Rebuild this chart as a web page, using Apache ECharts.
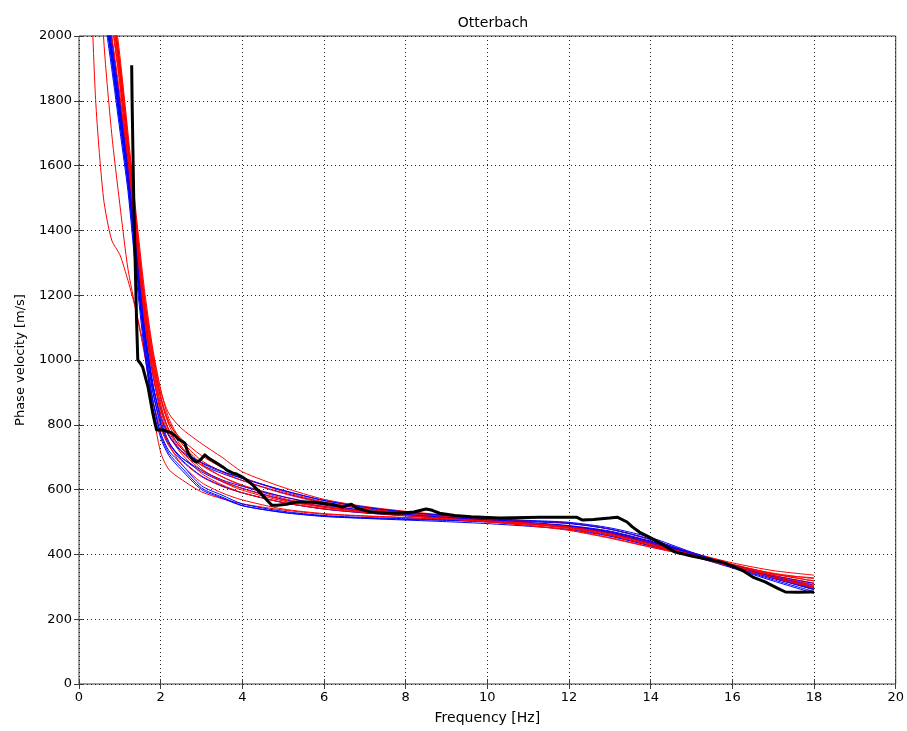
<!DOCTYPE html>
<html>
<head>
<meta charset="utf-8">
<script src="https://cdn.jsdelivr.net/npm/echarts@6/dist/echarts.min.js"></script>
<style>
  html, body { margin: 0; padding: 0; background: #fff; }
  #chart { width: 907px; height: 731px; }
</style>
</head>
<body>
<div id="chart"></div>
<script>
// Frequency samples shared by the modelled dispersion curves [Hz]
var modelFreq = [0.2, 0.4, 0.6, 0.8, 1.0, 1.2, 1.4, 1.6, 1.8, 2.0, 2.2, 2.5, 3.0, 3.5, 4.0, 5.0, 6.0, 7.0, 8.0, 9.0, 10, 11, 12, 13, 14, 15, 16, 17, 18];

// Modelled phase velocities, red family [m/s]
var red1  = [2500, 1820, 1500, 1370, 1325, 1245, 1150, 1030, 850, 715, 662, 632, 593, 572, 556, 537, 524, 518, 513, 508, 502, 496, 487, 469, 439, 404, 370, 340, 318];
var red2  = [null, 2600, 2000, 1700, 1480, 1280, 1150, 1020, 880, 790, 735, 690, 640, 610, 590, 560, 540, 528, 520, 512, 505, 497, 486, 466, 433, 400, 366, 332, 300];
var red3  = [null, null, null, 2120, 1920, 1680, 1430, 1200, 1030, 905, 835, 790, 742, 700, 655, 607, 570, 548, 533, 521, 511, 503, 496, 478, 446, 406, 374, 350, 336];
var red4  = [null, null, null, 2080, 1880, 1640, 1400, 1170, 1000, 880, 805, 757, 705, 668, 638, 594, 562, 543, 529, 518, 508, 498, 487, 468, 436, 401, 368, 342, 325];
var red5  = [null, null, null, 2150, 1940, 1700, 1450, 1220, 1040, 910, 820, 752, 690, 655, 628, 588, 558, 540, 527, 516, 507, 497, 485, 463, 431, 398, 365, 335, 312];
var red6  = [null, null, null, 2040, 1850, 1610, 1370, 1140, 980, 860, 785, 730, 675, 640, 614, 578, 552, 535, 523, 514, 505, 494, 480, 458, 428, 397, 362, 330, 302];
var red7  = [null, null, null, 2100, 1900, 1660, 1410, 1180, 1010, 885, 800, 735, 665, 625, 598, 565, 545, 531, 521, 513, 505, 496, 483, 460, 427, 396, 363, 328, 296];
var red8  = [null, null, null, 2000, 1820, 1590, 1350, 1120, 960, 845, 770, 712, 650, 615, 590, 560, 541, 529, 520, 510, 501, 490, 476, 452, 423, 394, 362, 329, 299];
var red9  = [null, null, null, 2120, 1910, 1670, 1420, 1190, 1020, 890, 810, 745, 680, 640, 612, 573, 548, 533, 521, 510, 500, 489, 474, 450, 422, 397, 368, 340, 318];
var red10 = [null, null, null, 2060, 1860, 1620, 1380, 1150, 970, 830, 740, 680, 622, 590, 568, 540, 526, 519, 514, 509, 503, 496, 485, 464, 432, 400, 366, 334, 306];
var red11 = [null, null, null, 2090, 1890, 1650, 1400, 1160, 990, 865, 780, 720, 660, 628, 603, 568, 546, 531, 520, 511, 502, 493, 482, 460, 428, 396, 365, 338, 328];

// Modelled phase velocities, blue family [m/s]
var blue1 = [null, null, 2180, 1990, 1800, 1610, 1370, 1140, 960, 850, 785, 728, 682, 655, 636, 597, 566, 545, 531, 519, 510, 503, 497, 478, 445, 402, 364, 330, 298];
var blue2 = [null, null, 2150, 1960, 1770, 1580, 1330, 1100, 930, 828, 770, 718, 676, 650, 628, 590, 560, 541, 528, 517, 507, 497, 485, 464, 432, 398, 362, 326, 292];
var blue3 = [null, null, 2120, 1940, 1750, 1560, 1310, 1080, 910, 805, 745, 700, 655, 625, 604, 570, 548, 533, 522, 513, 505, 497, 487, 468, 437, 400, 363, 327, 293];
var blue4 = [null, null, 2200, 2000, 1800, 1600, 1350, 1110, 935, 815, 748, 694, 642, 612, 590, 560, 540, 528, 519, 512, 505, 498, 489, 472, 441, 403, 365, 328, 296];
var blue5 = [null, null, 2100, 1920, 1730, 1540, 1290, 1050, 880, 775, 720, 680, 612, 583, 556, 533, 520, 514, 510, 506, 502, 496, 487, 470, 439, 402, 364, 327, 291];
var blue6 = [null, null, 2130, 1950, 1760, 1570, 1300, 1060, 880, 770, 712, 670, 605, 577, 551, 530, 518, 512, 508, 505, 500, 494, 484, 466, 434, 398, 360, 322, 285];
var blue7 = [null, null, 2080, 1900, 1710, 1520, 1260, 1030, 860, 760, 705, 662, 600, 574, 550, 529, 517, 511, 506, 501, 495, 487, 477, 456, 426, 395, 358, 318, 280];
var blue8 = [null, null, 2160, 1970, 1780, 1590, 1340, 1100, 925, 825, 765, 720, 684, 657, 634, 598, 567, 546, 531, 520, 511, 505, 499, 482, 452, 407, 366, 332, 305];
var blue9 = [null, null, 2110, 1930, 1740, 1550, 1300, 1080, 905, 800, 740, 700, 660, 630, 610, 578, 553, 536, 524, 514, 507, 501, 495, 478, 447, 404, 367, 335, 310];

// Observed dispersion curve (thick black)
var obsFreq = [1.29, 1.30, 1.32, 1.34, 1.37, 1.41, 1.44, 1.50, 1.56, 1.69, 1.80, 1.86, 1.90, 2.05, 2.27, 2.47, 2.59, 2.67, 2.79, 2.88, 2.96, 3.08, 3.20, 3.37, 3.52, 3.62, 3.77, 3.86, 4.00, 4.10, 4.25, 4.42, 4.60, 4.72, 4.85, 5.08, 5.33, 5.57, 5.80, 6.00, 6.25, 6.45, 6.67, 6.80, 7.10, 7.50, 7.85, 8.20, 8.50, 8.65, 8.83, 9.20, 9.60, 10.3, 11.3, 12.18, 12.33, 12.60, 12.99, 13.18, 13.42, 13.55, 13.72, 14.00, 14.30, 14.60, 15.00, 15.40, 15.75, 16.00, 16.25, 16.50, 16.80, 17.10, 17.30, 17.60, 17.90, 18.00];
var obsVel  = [1910, 1800, 1650, 1500, 1330, 1120, 1000, 990, 978, 917, 840, 805, 784, 784, 775, 753, 744, 713, 691, 685, 690, 707, 695, 682, 670, 660, 651, 648, 639, 630, 615, 593, 568, 552, 552, 555, 562, 562, 560, 557, 553, 546, 555, 543, 532, 528, 527, 531, 540, 536, 527, 520, 516, 512, 515, 515, 506, 508, 512, 515, 500, 485, 469, 451, 430, 407, 395, 385, 376, 364, 350, 330, 315, 296, 284, 283, 284, 284];

// Axis ticks
var freqTicks = { min: 0, max: 20, step: 2 };
var velTicks  = { min: 0, max: 2000, step: 200 };

var redCurves  = [red1, red2, red3, red4, red5, red6, red7, red8, red9, red10, red11];
var blueCurves = [blue1, blue2, blue3, blue4, blue5, blue6, blue7, blue8, blue9];

function pairs(xs, ys) {
  var out = [];
  for (var i = 0; i < xs.length; i++) out.push([xs[i], ys[i]]);
  return out;
}

function modelSeries(values, color) {
  return {
    type: 'line',
    data: pairs(modelFreq, values),
    showSymbol: false,
    symbol: 'none',
    smooth: 0.25,
    connectNulls: false,
    clip: true,
    silent: true,
    lineStyle: { color: color, width: 1 },
    z: 2
  };
}

// Interleave the two families so neither completely hides the other
var series = [];
var n = Math.max(redCurves.length, blueCurves.length);
for (var i = 0; i < n; i++) {
  if (redCurves[i]) series.push(modelSeries(redCurves[i], '#ff0000'));
  if (blueCurves[i]) series.push(modelSeries(blueCurves[i], '#0000ff'));
}
series.push({
  type: 'line',
  data: pairs(obsFreq, obsVel),
  showSymbol: false,
  symbol: 'none',
  clip: true,
  silent: true,
  lineStyle: { color: '#000000', width: 3, join: 'round' },
  z: 3
});

var fontFam = '"DejaVu Sans", Verdana, sans-serif';
var gridLine = { show: true, lineStyle: { color: '#222', width: 1, type: [1, 3] } };
var plainNumber = function (v) { return String(v); };

var chart = echarts.init(document.getElementById('chart'), null, { renderer: 'canvas' });
chart.setOption({
  animation: false,
  backgroundColor: '#ffffff',
  title: {
    text: 'Otterbach',
    left: 488,
    top: 11,
    textAlign: 'center',
    textStyle: { fontFamily: fontFam, fontSize: 14, fontWeight: 'normal', color: '#000' }
  },
  grid: {
    left: 79, right: 10, top: 36, bottom: 47,
    show: true, borderColor: '#3c3c3c', borderWidth: 1, backgroundColor: '#fff'
  },
  xAxis: [{
    type: 'value',
    min: freqTicks.min, max: freqTicks.max, interval: freqTicks.step,
    name: 'Frequency [Hz]', nameLocation: 'middle', nameGap: 27,
    nameTextStyle: { fontFamily: fontFam, fontSize: 14, color: '#000' },
    axisLine: { show: false },
    axisTick: { show: true, inside: true, length: 5, lineStyle: { color: '#3c3c3c' } },
    axisLabel: { fontFamily: fontFam, fontSize: 13, color: '#000', margin: 7, formatter: plainNumber },
    splitLine: gridLine
  }, {
    type: 'value', position: 'top',
    min: freqTicks.min, max: freqTicks.max, interval: freqTicks.step,
    axisLine: { show: false },
    axisTick: { show: true, inside: true, length: 5, lineStyle: { color: '#3c3c3c' } },
    axisLabel: { show: false },
    splitLine: { show: false }
  }],
  yAxis: [{
    type: 'value',
    min: velTicks.min, max: velTicks.max, interval: velTicks.step,
    name: 'Phase velocity [m/s]', nameLocation: 'middle', nameGap: 52,
    nameTextStyle: { fontFamily: fontFam, fontSize: 13, color: '#000' },
    axisLine: { show: false },
    axisTick: { show: true, inside: true, length: 5, lineStyle: { color: '#3c3c3c' } },
    axisLabel: { fontFamily: fontFam, fontSize: 13, color: '#000', margin: 7, formatter: plainNumber },
    splitLine: gridLine
  }, {
    type: 'value', position: 'right',
    min: velTicks.min, max: velTicks.max, interval: velTicks.step,
    axisLine: { show: false },
    axisTick: { show: true, inside: true, length: 5, lineStyle: { color: '#3c3c3c' } },
    axisLabel: { show: false },
    splitLine: { show: false }
  }],
  series: series
});
</script>
</body>
</html>
